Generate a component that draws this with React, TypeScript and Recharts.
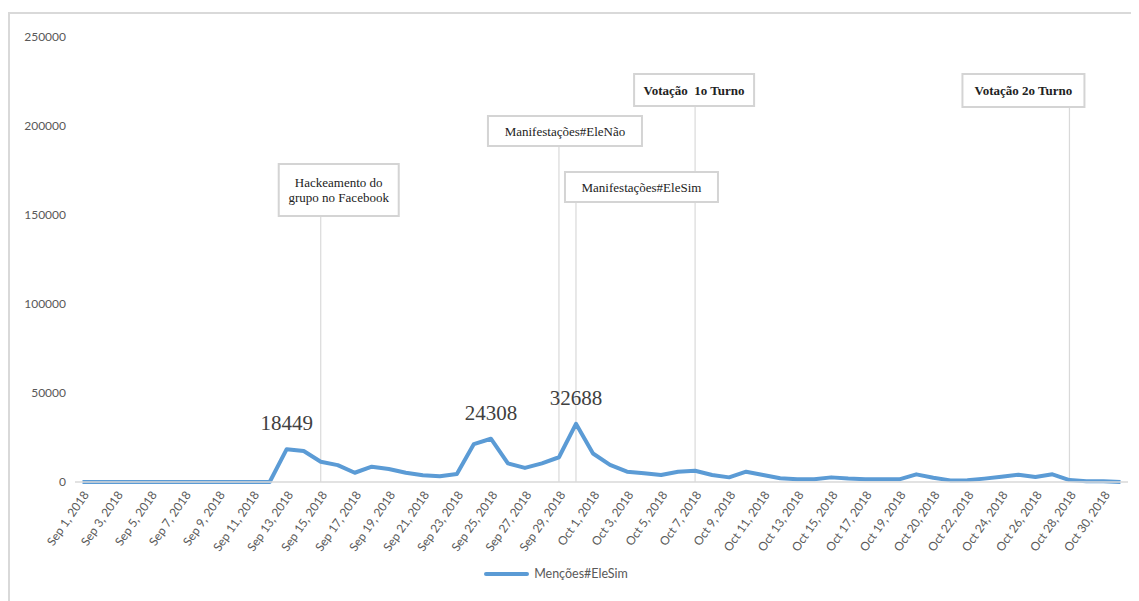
import { LineChart, Line, XAxis, YAxis, ReferenceLine, LabelList, Legend } from 'recharts'

// categories (one extra point sits between Oct 19 and Oct 20 in the source)
const dates = [
  'Sep 1, 2018', 'Sep 2, 2018', 'Sep 3, 2018', 'Sep 4, 2018', 'Sep 5, 2018', 'Sep 6, 2018',
  'Sep 7, 2018', 'Sep 8, 2018', 'Sep 9, 2018', 'Sep 10, 2018', 'Sep 11, 2018', 'Sep 12, 2018',
  'Sep 13, 2018', 'Sep 14, 2018', 'Sep 15, 2018', 'Sep 16, 2018', 'Sep 17, 2018', 'Sep 18, 2018',
  'Sep 19, 2018', 'Sep 20, 2018', 'Sep 21, 2018', 'Sep 22, 2018', 'Sep 23, 2018', 'Sep 24, 2018',
  'Sep 25, 2018', 'Sep 26, 2018', 'Sep 27, 2018', 'Sep 28, 2018', 'Sep 29, 2018', 'Sep 30, 2018',
  'Oct 1, 2018', 'Oct 2, 2018', 'Oct 3, 2018', 'Oct 4, 2018', 'Oct 5, 2018', 'Oct 6, 2018',
  'Oct 7, 2018', 'Oct 8, 2018', 'Oct 9, 2018', 'Oct 10, 2018', 'Oct 11, 2018', 'Oct 12, 2018',
  'Oct 13, 2018', 'Oct 14, 2018', 'Oct 15, 2018', 'Oct 16, 2018', 'Oct 17, 2018', 'Oct 18, 2018',
  'Oct 19, 2018', 'Oct 19, 2018 (2)', 'Oct 20, 2018', 'Oct 21, 2018', 'Oct 22, 2018', 'Oct 23, 2018',
  'Oct 24, 2018', 'Oct 25, 2018', 'Oct 26, 2018', 'Oct 27, 2018', 'Oct 28, 2018', 'Oct 29, 2018',
  'Oct 30, 2018', 'Oct 31, 2018',
]

const mencoes = [
  0, 0, 0, 0, 0, 0, 0, 0, 0, 0, 0, 0,
  18449, 17400, 11400, 9500, 5200, 8600, 7300, 5200, 3750, 3200, 4500, 21300,
  24308, 10500, 7900, 10500, 13900, 32688,
  16000, 9600, 5800, 4900, 3900, 5800, 6350, 3900, 2600, 5800, 3900, 2100,
  1500, 1500, 2600, 1900, 1500, 1500, 1500, 4300, 2400, 900, 950, 1900,
  3000, 4100, 2800, 4300, 1100, 400, 400, 0,
]

const yTicks = [0, 50000, 100000, 150000, 200000, 250000]

// points that carry a value label
const labeledDates = ['Sep 13, 2018', 'Sep 25, 2018', 'Sep 30, 2018']

// event annotations
const eventDates = ['Sep 15, 2018', 'Sep 29, 2018', 'Oct 7, 2018', 'Sep 30, 2018', 'Oct 28, 2018']
const eventTexts = [
  ['Hackeamento do', 'grupo no Facebook'],
  ['Manifestações#EleNão'],
  ['Votação  1o Turno'],
  ['Manifestações#EleSim'],
  ['Votação 2o Turno'],
]
const eventBold = [false, false, true, false, true]

// box layout for each annotation (offset from the line, svg top, size)
const eventBoxes = [
  { dx: -42, top: 150, w: 120, h: 52 },
  { dx: -71, top: 102, w: 154, h: 30 },
  { dx: -61, top: 60, w: 120, h: 32 },
  { dx: -11, top: 158, w: 153, h: 30 },
  { dx: -107, top: 60, w: 122, h: 33 },
]

const data = dates.map((d, i) => ({ date: d, value: mencoes[i] }))

const BLUE = '#5B9BD5'
const GRAY = '#595959'
const SANS = 'Lato, "Liberation Sans", sans-serif'
const SERIF = '"Liberation Serif", "Times New Roman", serif'

const XTick = ({ x, y, payload }: any) => (
  <g transform={`translate(${x},${y})`}>
    <text transform="rotate(-55)" textAnchor="end" dy="0.71em" fill={GRAY} fontSize={12} fontFamily={SANS}>
      {payload.value}
    </text>
  </g>
)

const makeEventShape = (i: number) => (props: any) => {
  const { x1, y1, y2 } = props
  const bottom = Math.max(y1, y2)
  const box = eventBoxes[i]
  const lines = eventTexts[i]
  const bx = x1 + box.dx
  const lh = 15
  const firstY = box.top + box.h / 2 - ((lines.length - 1) * lh) / 2
  return (
    <g>
      <line x1={x1} x2={x1} y1={box.top + box.h} y2={bottom} stroke="#d9d9d9" strokeWidth={1.2} />
      <rect x={bx} y={box.top} width={box.w} height={box.h} fill="#fff" stroke="#d4d4d4" strokeWidth={2} />
      {lines.map((t, k) => (
        <text
          key={k}
          x={bx + box.w / 2}
          y={firstY + k * lh}
          dy="0.35em"
          textAnchor="middle"
          fontFamily={SERIF}
          fontSize={13}
          fontWeight={eventBold[i] ? 'bold' : 'normal'}
          fill="#222"
          style={{ whiteSpace: 'pre' }}
        >
          {t}
        </text>
      ))}
    </g>
  )
}

const PeakLabel = (props: any) => {
  const { x, y, value, index } = props
  if (!labeledDates.includes(dates[index])) return null
  return (
    <text x={x} y={y - 19} textAnchor="middle" fontFamily={SERIF} fontSize={21} fill="#404040">
      {value}
    </text>
  )
}

const LegendContent = () => (
  <div style={{ display: 'flex', justifyContent: 'center', alignItems: 'center', paddingRight: 26 }}>
    <span style={{ display: 'inline-block', width: 45, height: 4, background: BLUE, borderRadius: 2, marginRight: 5 }} />
    <span style={{ fontFamily: SANS, fontSize: 12.5, color: GRAY }}>Menções#EleSim</span>
  </div>
)

export default function App() {
  return (
    <div style={{ paddingTop: 4 }}>
      <div style={{ width: 1124, height: 600, border: '2px solid #d9d9d9', background: '#fff' }}>
        <LineChart width={1124} height={587} data={data} margin={{ top: 23, right: 6, left: 0, bottom: 5 }}>
          <XAxis
            dataKey="date"
            interval={1}
            tick={<XTick />}
            tickLine={false}
            axisLine={{ stroke: '#d9d9d9', strokeWidth: 1.5 }}
            height={84}
            padding={{ left: 7.5, right: 7.5 }}
          />
          <YAxis
            domain={[0, 250000]}
            ticks={yTicks}
            width={65}
            axisLine={false}
            tickLine={false}
            tickMargin={3}
            tick={{ fill: GRAY, fontSize: 12, fontFamily: SANS }}
          />
          {eventDates.map((d, i) => (
            <ReferenceLine key={d} x={d} stroke="#d9d9d9" shape={makeEventShape(i)} />
          ))}
          <Line
            type="linear"
            dataKey="value"
            name="Menções#EleSim"
            stroke={BLUE}
            strokeWidth={4}
            strokeLinejoin="round"
            dot={false}
            activeDot={false}
            isAnimationActive={false}
          >
            <LabelList dataKey="value" content={<PeakLabel />} />
          </Line>
          <Legend verticalAlign="bottom" height={30} content={<LegendContent />} />
        </LineChart>
      </div>
    </div>
  )
}
